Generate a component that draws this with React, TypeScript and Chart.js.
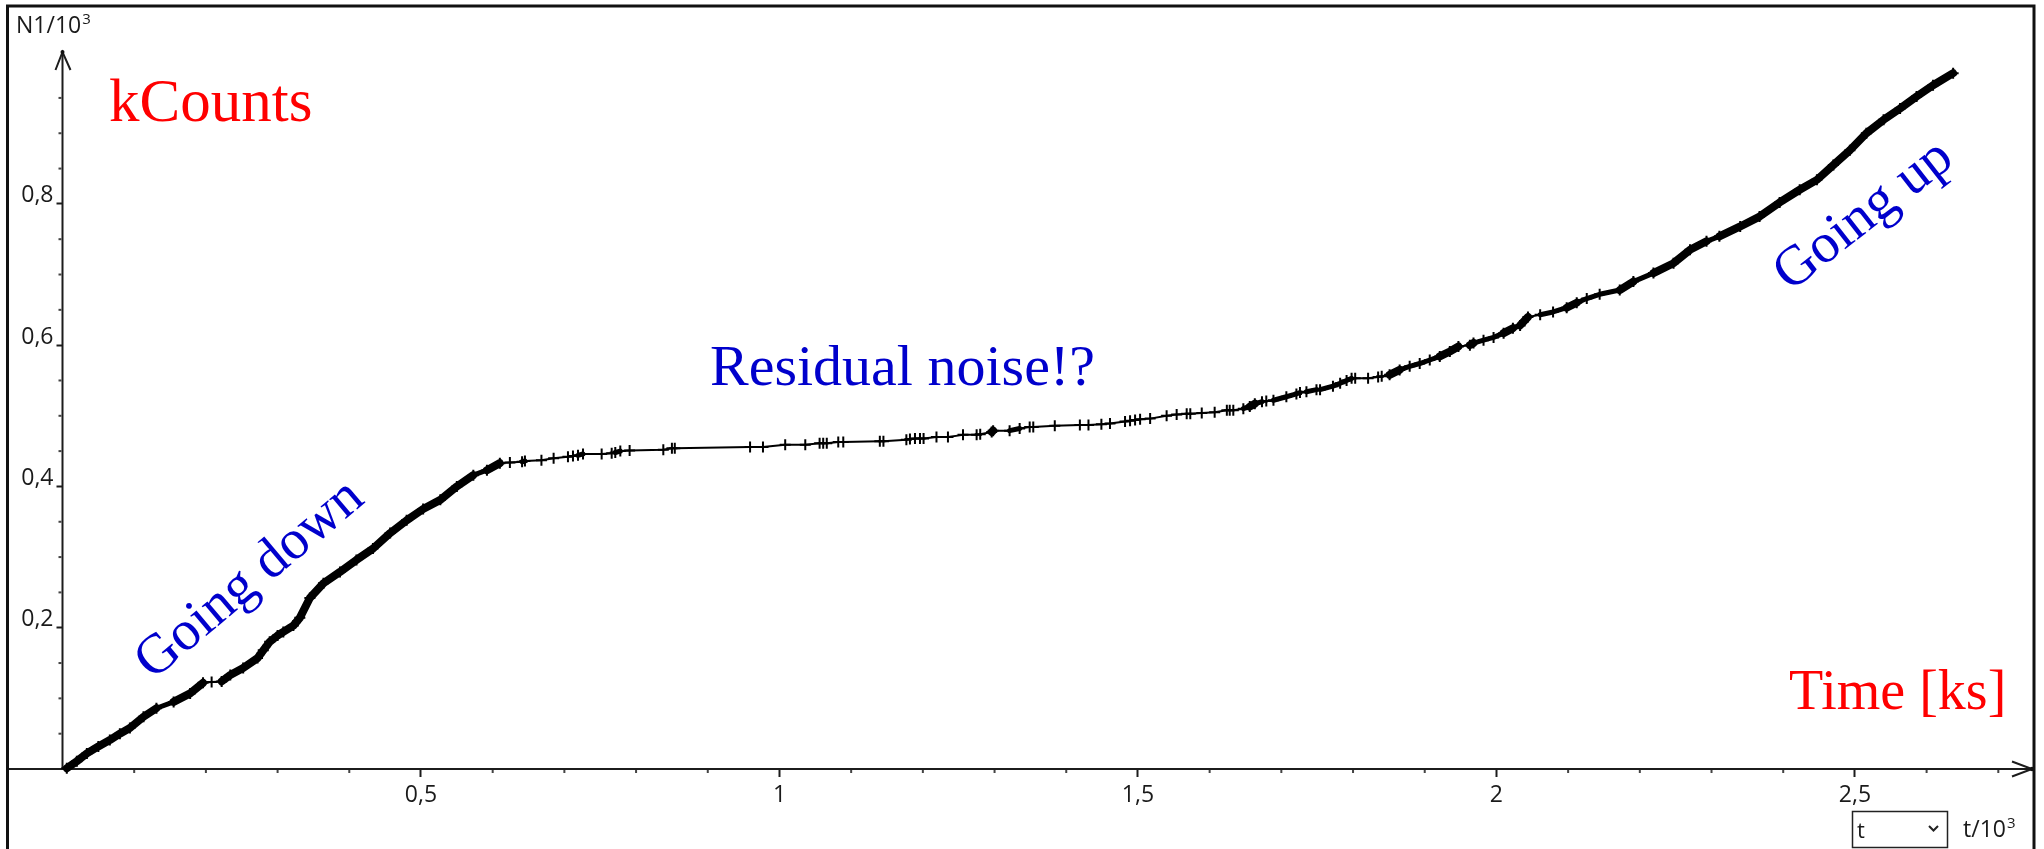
import React, { useEffect, useRef } from 'react';
import { Chart, registerables } from 'chart.js';

Chart.register(...registerables);

// time in 10^3 s (ks)
const timeKs: number[] = [
  0.006, 0.020, 0.034, 0.050, 0.066, 0.080, 0.094, 0.113, 0.131, 0.155,
  0.178, 0.196, 0.208, 0.222, 0.234, 0.252, 0.272, 0.280, 0.289, 0.300,
  0.308, 0.322, 0.331, 0.345, 0.364, 0.387, 0.410, 0.433, 0.457, 0.480,
  0.503, 0.527, 0.550, 0.573, 0.592, 0.610,
  0.624, 0.641, 0.645, 0.668, 0.685, 0.705, 0.712, 0.719, 0.726, 0.752,
  0.766, 0.771, 0.778, 0.791, 0.838, 0.850, 0.854, 0.959, 0.977, 1.008,
  1.036, 1.056, 1.061, 1.066, 1.082, 1.089, 1.140, 1.145, 1.177, 1.182,
  1.189, 1.196, 1.201, 1.219, 1.235, 1.256, 1.275, 1.280, 1.296, 1.298,
  1.321, 1.335, 1.349, 1.354, 1.384, 1.419, 1.431, 1.449, 1.461, 1.482,
  1.489, 1.496, 1.503, 1.517, 1.540, 1.554, 1.568, 1.573, 1.589, 1.607,
  1.624, 1.628, 1.633, 1.647, 1.656, 1.663, 1.673, 1.679, 1.689, 1.707,
  1.721, 1.726, 1.735, 1.749, 1.754, 1.772, 1.782, 1.791, 1.798, 1.803,
  1.821, 1.835, 1.840, 1.851, 1.865, 1.879, 1.893, 1.907, 1.921, 1.935,
  1.947, 1.963, 1.968, 1.982, 1.996, 2.010, 2.023, 2.033, 2.044, 2.061,
  2.079, 2.098, 2.112, 2.126, 2.144, 2.172, 2.191, 2.219, 2.247, 2.270,
  2.293, 2.311, 2.340, 2.367, 2.395, 2.423, 2.447, 2.470, 2.493, 2.516,
  2.540, 2.563, 2.586, 2.609, 2.637,
];

// counts in 10^3
const countsK: number[] = [
  0.001, 0.011, 0.022, 0.032, 0.041, 0.050, 0.058, 0.074, 0.086, 0.095,
  0.107, 0.122, 0.123, 0.124, 0.133, 0.143, 0.157, 0.168, 0.180, 0.189,
  0.194, 0.203, 0.214, 0.242, 0.263, 0.279, 0.296, 0.312, 0.334, 0.352,
  0.368, 0.381, 0.400, 0.416, 0.423, 0.433,
  0.434, 0.435, 0.436, 0.437, 0.440, 0.442, 0.443, 0.444, 0.446, 0.446,
  0.447, 0.448, 0.450, 0.451, 0.452, 0.454, 0.454, 0.456, 0.456, 0.459,
  0.459, 0.461, 0.461, 0.461, 0.463, 0.463, 0.464, 0.464, 0.466, 0.467,
  0.468, 0.468, 0.468, 0.470, 0.470, 0.473, 0.473, 0.474, 0.477, 0.479,
  0.479, 0.482, 0.484, 0.484, 0.486, 0.487, 0.487, 0.488, 0.489, 0.492,
  0.493, 0.494, 0.495, 0.496, 0.500, 0.502, 0.503, 0.503, 0.504, 0.505,
  0.508, 0.508, 0.508, 0.510, 0.513, 0.517, 0.520, 0.521, 0.522, 0.527,
  0.531, 0.533, 0.534, 0.537, 0.537, 0.542, 0.546, 0.550, 0.553, 0.553,
  0.553, 0.555, 0.556, 0.558, 0.565, 0.570, 0.574, 0.579, 0.584, 0.591,
  0.598, 0.600, 0.603, 0.607, 0.611, 0.617, 0.624, 0.628, 0.640, 0.643,
  0.647, 0.653, 0.660, 0.666, 0.672, 0.678, 0.690, 0.702, 0.716, 0.735,
  0.747, 0.754, 0.768, 0.782, 0.802, 0.820, 0.834, 0.855, 0.876, 0.900,
  0.919, 0.935, 0.952, 0.968, 0.985,
];

const xMajorTicks: number[] = [0.5, 1, 1.5, 2, 2.5];
const xTickLabels: string[] = ['0,5', '1', '1,5', '2', '2,5'];
const yMajorTicks: number[] = [0.2, 0.4, 0.6, 0.8];
const yTickLabels: string[] = ['0,2', '0,4', '0,6', '0,8'];

const X_MIN = 0;
const X_MAX = 2.747;
const Y_MIN = 0;
const Y_MAX = 1.015;

const yAxisTitle = 'N1/10';
const xAxisTitle = 't/10';
const exponentText = '3';
const selectValue = 't';

const SANS = '"Open Sans", "DejaVu Sans", sans-serif';
const SERIF = '"Liberation Serif", "Times New Roman", serif';

const findMajor = (v: number, majors: number[]) =>
  majors.findIndex((m) => Math.abs(m - v) < 1e-6);

const drawWithExponent = (ctx: CanvasRenderingContext2D, base: string, x: number, y: number) => {
  ctx.font = `23px ${SANS}`;
  ctx.fillText(base, x, y);
  const w = ctx.measureText(base).width;
  ctx.font = `15px ${SANS}`;
  ctx.fillText(exponentText, x + w + 1, y - 9);
};

const decorPlugin = {
  id: 'decor',
  beforeDatasetsDraw(chart: any) {
    const { ctx, scales } = chart;
    const x = scales.x;
    const y = scales.y;
    const x0 = x.getPixelForValue(0);
    const y0 = y.getPixelForValue(0);
    const xEnd = x.getPixelForValue(X_MAX);
    const yTop = y.getPixelForValue(Y_MAX);
    ctx.save();
    ctx.strokeStyle = '#1c1c1c';
    ctx.lineWidth = 2;
    // x axis line (extends to the frame on the left)
    ctx.beginPath();
    ctx.moveTo(7, y0);
    ctx.lineTo(xEnd, y0);
    ctx.stroke();
    ctx.beginPath();
    ctx.moveTo(xEnd - 20, y0 - 7.5);
    ctx.lineTo(xEnd, y0);
    ctx.lineTo(xEnd - 20, y0 + 7.5);
    ctx.stroke();
    // y axis line
    ctx.beginPath();
    ctx.moveTo(x0, y0);
    ctx.lineTo(x0, yTop);
    ctx.stroke();
    ctx.beginPath();
    ctx.moveTo(x0 - 7, yTop + 18);
    ctx.lineTo(x0, yTop);
    ctx.lineTo(x0 + 8, yTop + 18);
    ctx.stroke();
    ctx.fillStyle = '#111';
    ctx.beginPath();
    ctx.arc(x0, yTop, 2, 0, Math.PI * 2);
    ctx.fill();
    ctx.beginPath();
    ctx.arc(xEnd, y0, 2.2, 0, Math.PI * 2);
    ctx.fill();
    // minor ticks
    ctx.fillStyle = '#444';
    x.ticks.forEach((t: any) => {
      if (findMajor(t.value, xMajorTicks) < 0 && t.value > 1e-6) {
        const px = x.getPixelForValue(t.value);
        ctx.fillRect(px - 1, y0 + 1, 2, 3);
      }
    });
    y.ticks.forEach((t: any) => {
      if (findMajor(t.value, yMajorTicks) < 0 && t.value > 1e-6 && t.value < 0.999) {
        const py = y.getPixelForValue(t.value);
        ctx.fillRect(x0 - 4, py - 1, 3, 2);
      }
    });
    ctx.restore();
  },
  afterDraw(chart: any) {
    const { ctx } = chart;
    ctx.save();
    // outer frame
    ctx.strokeStyle = '#111';
    ctx.lineWidth = 3;
    ctx.strokeRect(7.5, 6, 2026.5, 900);

    // axis titles
    ctx.fillStyle = '#1a1a1a';
    ctx.textAlign = 'left';
    ctx.textBaseline = 'alphabetic';
    drawWithExponent(ctx, yAxisTitle, 16, 33);
    drawWithExponent(ctx, xAxisTitle, 1963, 837);

    // select box
    ctx.lineWidth = 1.5;
    ctx.strokeStyle = '#222';
    ctx.strokeRect(1852.5, 811.5, 95, 36);
    ctx.font = `22px ${SANS}`;
    ctx.fillText(selectValue, 1857, 838);
    ctx.lineWidth = 2;
    ctx.beginPath();
    ctx.moveTo(1929, 826);
    ctx.lineTo(1933.5, 830.5);
    ctx.lineTo(1938, 826);
    ctx.stroke();

    // annotations
    ctx.fillStyle = '#ff0000';
    ctx.font = `61px ${SERIF}`;
    ctx.fillText('kCounts', 109, 121);
    ctx.font = `56px ${SERIF}`;
    ctx.fillText('Time [ks]', 1789, 709);

    ctx.fillStyle = '#0000cc';
    ctx.font = `58px ${SERIF}`;
    ctx.fillText('Residual noise!?', 710, 385);

    ctx.textAlign = 'center';
    ctx.textBaseline = 'middle';
    ctx.save();
    ctx.translate(250, 580);
    ctx.rotate((-40 * Math.PI) / 180);
    ctx.font = `56px ${SERIF}`;
    ctx.fillText('Going down', 0, 0);
    ctx.restore();

    ctx.save();
    ctx.translate(1864, 216);
    ctx.rotate((-38 * Math.PI) / 180);
    ctx.font = `56px ${SERIF}`;
    ctx.fillText('Going up', 0, 0);
    ctx.restore();

    ctx.restore();
  },
};

export default function App() {
  const canvasRef = useRef<HTMLCanvasElement | null>(null);

  useEffect(() => {
    const canvas = canvasRef.current;
    if (!canvas) return;
    const points = timeKs.map((t, i) => ({ x: t, y: countsK[i] }));
    const chart = new Chart(canvas, {
      type: 'line',
      data: {
        datasets: [
          {
            data: points,
            borderColor: '#000',
            borderWidth: 2,
            borderCapStyle: 'round',
            borderJoinStyle: 'round',
            pointStyle: 'cross',
            pointRadius: 5.5,
            pointBorderWidth: 2,
            pointBorderColor: '#000',
            pointBackgroundColor: '#000',
            tension: 0,
            clip: false as any,
            segment: {
              borderWidth: (ctx: any) => {
                const dx = Math.abs(ctx.p1.x - ctx.p0.x) || 1;
                const dy = Math.abs(ctx.p1.y - ctx.p0.y);
                const s = dy / dx;
                if (s > 0.45) return 8;
                if (s > 0.2) return 5;
                return 2;
              },
            },
          } as any,
        ],
      },
      options: {
        responsive: false,
        animation: false,
        events: [],
        layout: { padding: { left: 0, top: 52, right: 12, bottom: 0 } },
        plugins: {
          legend: { display: false },
          tooltip: { enabled: false },
          title: { display: false },
        },
        scales: {
          x: {
            type: 'linear',
            min: X_MIN,
            max: X_MAX,
            border: { display: false },
            grid: {
              display: true,
              drawOnChartArea: false,
              drawTicks: true,
              tickLength: 8,
              tickWidth: 2,
              tickColor: (c: any) =>
                c.tick && findMajor(c.tick.value, xMajorTicks) >= 0 ? '#1c1c1c' : 'rgba(0,0,0,0)',
            },
            ticks: {
              stepSize: 0.1,
              autoSkip: false,
              maxRotation: 0,
              minRotation: 0,
              includeBounds: false,
              padding: 5,
              color: '#1a1a1a',
              font: { family: SANS, size: 23 },
              callback: (v: any) => {
                const i = findMajor(Number(v), xMajorTicks);
                return i >= 0 ? xTickLabels[i] : '';
              },
            },
            afterFit: (s: any) => {
              s.height = 80;
              s.paddingLeft = 0;
              s.paddingRight = 0;
            },
          },
          y: {
            type: 'linear',
            min: Y_MIN,
            max: Y_MAX,
            border: { display: false },
            grid: {
              display: true,
              drawOnChartArea: false,
              drawTicks: true,
              tickLength: 6,
              tickWidth: 2,
              tickColor: (c: any) =>
                c.tick && findMajor(c.tick.value, yMajorTicks) >= 0 ? '#1c1c1c' : 'rgba(0,0,0,0)',
            },
            ticks: {
              stepSize: 0.05,
              autoSkip: false,
              includeBounds: false,
              padding: 3,
              labelOffset: -8,
              color: '#1a1a1a',
              font: { family: SANS, size: 23 },
              callback: (v: any) => {
                const i = findMajor(Number(v), yMajorTicks);
                return i >= 0 ? yTickLabels[i] : '';
              },
            },
            afterFit: (s: any) => {
              s.width = 62.5;
              s.paddingTop = 0;
              s.paddingBottom = 0;
            },
          },
        },
      } as any,
      plugins: [decorPlugin],
    });
    return () => chart.destroy();
  }, []);

  return (
    <div style={{ position: 'absolute', left: 0, top: 0, width: 2044, height: 849, background: '#fff' }}>
      <canvas ref={canvasRef} width={2044} height={849} style={{ display: 'block' }} />
    </div>
  );
}
